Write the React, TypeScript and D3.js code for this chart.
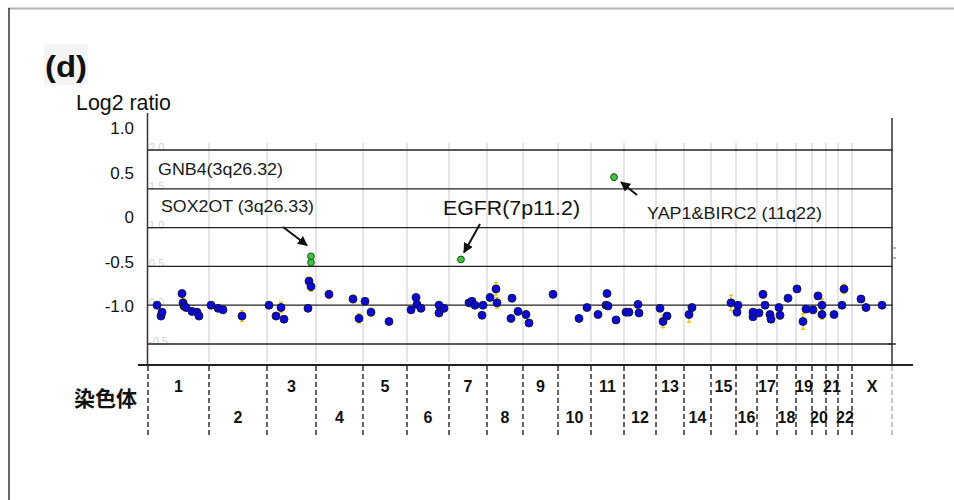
import React from "react";
import * as d3 from "d3";

// ---------- data ----------
const chromosomes = ["1","2","3","4","5","6","7","8","9","10","11","12","13","14","15","16","17","18","19","20","21","22","X"];
// relative chromosome widths as drawn in the genome-wide x axis
const chromWidths = [61,58,49,47,44,42,38,36,35,33,33,32,28,27,25,21,20,19,16,14,12,14,40];

// gridlines of the plot (log2 ratio scale)
const gridValues = [2.0, 1.5, 1.0, 0.5, 0.0, -0.5];
const faintGridLabels = ["2.0", "1.5", "1.0", "0.5", "0.0", "-0.5"];
// pasted axis labels on the left
const axisLabelValues = [1.0, 0.5, 0, -0.5, -1.0];
const axisLabels = ["1.0", "0.5", "0", "-0.5", "-1.0"];

// blue probes: [chromosome, position within chromosome, log2 ratio, error]
const bluePoints: [string, number, number, number][] = [
  ["1", 9, 0.0, 0.03], ["1", 13, -0.14, 0.03], ["1", 14, -0.09, 0.02], ["1", 34, 0.15, 0.02],
  ["1", 35, 0.03, 0.06], ["1", 36, -0.01, 0.03], ["1", 38, -0.03, 0.02], ["1", 44, -0.08, 0.02],
  ["1", 49, -0.09, 0.02], ["1", 51, -0.14, 0.03],
  ["2", 2, 0.0, 0.02], ["2", 9, -0.04, 0.04], ["2", 14, -0.06, 0.02], ["2", 33, -0.14, 0.07],
  ["3", 2, 0.0, 0.02], ["3", 9, -0.14, 0.03], ["3", 14, -0.03, 0.07], ["3", 17, -0.18, 0.02],
  ["3", 41, -0.04, 0.02], ["3", 42, 0.31, 0.05], ["3", 44, 0.24, 0.06],
  ["4", 13, 0.14, 0.05], ["4", 37, 0.08, 0.05], ["4", 43, -0.17, 0.06],
  ["5", 2, 0.05, 0.02], ["5", 8, -0.09, 0.05], ["5", 26, -0.21, 0.02],
  ["6", 4, -0.06, 0.02], ["6", 9, 0.1, 0.02], ["6", 10, 0.01, 0.02], ["6", 14, -0.04, 0.02],
  ["6", 32, 0.0, 0.03], ["6", 32, -0.1, 0.03], ["6", 37, -0.04, 0.04],
  ["7", 20, 0.03, 0.03], ["7", 23, 0.05, 0.03], ["7", 26, 0.0, 0.02], ["7", 33, -0.13, 0.02],
  ["7", 34, 0.0, 0.02],
  ["8", 3, 0.1, 0.03], ["8", 9, 0.21, 0.08], ["8", 10, 0.03, 0.07], ["8", 25, 0.09, 0.02],
  ["8", 24, -0.17, 0.02], ["8", 31, -0.08, 0.02],
  ["9", 3, -0.12, 0.05], ["9", 6, -0.23, 0.02], ["9", 30, 0.14, 0.02],
  ["10", 21, -0.17, 0.02], ["10", 29, -0.03, 0.02],
  ["11", 7, -0.12, 0.02], ["11", 16, 0.15, 0.02], ["11", 15, 0.0, 0.02], ["11", 17, -0.01, 0.02],
  ["11", 25, -0.19, 0.02],
  ["12", 2, -0.09, 0.04], ["12", 5, -0.09, 0.02], ["12", 14, 0.01, 0.04], ["12", 15, -0.1, 0.02],
  ["13", 4, -0.04, 0.04], ["13", 7, -0.21, 0.08], ["13", 11, -0.14, 0.02],
  ["14", 5, -0.12, 0.1], ["14", 8, -0.03, 0.04],
  ["15", 20, 0.03, 0.1], ["16", 1, -0.09, 0.04], ["16", 2, 0.0, 0.02],
  ["16", 17, -0.15, 0.02], ["16", 17, -0.09, 0.02],
  ["17", 2, -0.1, 0.02], ["17", 6, 0.14, 0.05], ["17", 8, 0.0, 0.02], ["17", 13, -0.12, 0.02],
  ["17", 14, -0.18, 0.02],
  ["18", 3, -0.13, 0.05], ["18", 2, -0.03, 0.03], ["18", 11, 0.09, 0.02],
  ["19", 1, 0.21, 0.02], ["19", 7, -0.21, 0.1], ["19", 10, -0.05, 0.02],
  ["20", 1, -0.06, 0.02], ["20", 6, 0.12, 0.03], ["20", 10, 0.0, 0.08], ["20", 10, -0.12, 0.06],
  ["21", 8, -0.12, 0.02],
  ["22", 4, 0.0, 0.02], ["22", 6, 0.21, 0.06],
  ["X", 9, 0.08, 0.02], ["X", 14, -0.03, 0.02], ["X", 30, 0.0, 0.02],
];

// amplified probes (green)
const greenPoints: [string, number, number, number][] = [
  ["3", 44, 0.63, 0.02], ["3", 44, 0.55, 0.02],
  ["7", 12, 0.59, 0.01],
  ["11", 23, 1.65, 0.04],
];

// ---------- layout ----------
const W = 954, H = 500;
const plotLeft = 148, plotRight = 892;
const yTop = 150, yBottom = 344;
const axisY = 365;

const FONT = "'Liberation Sans', Arial, sans-serif";

export default function App() {
  const chromStarts = d3.cumsum([0, ...chromWidths]);
  const total = chromStarts[chromStarts.length - 1];
  const x = d3.scaleLinear().domain([0, total]).range([plotLeft, plotRight]);
  const y = d3.scaleLinear().domain([-0.5, 2.0]).range([yBottom, yTop]);
  const labelY = d3.scaleLinear().domain([1.0, -1.0]).range([128, 306]);
  const startOf = (c: string) => chromStarts[chromosomes.indexOf(c)];
  const px = (c: string, p: number) => x(startOf(c) + p);

  const boundaries = Array.from(chromStarts);

  const errBar = (cx: number, v: number, e: number, key: string) => {
    const y1 = y(v + e), y2 = y(v - e);
    return (
      <g key={key} stroke="#f0be00" strokeWidth={1.3}>
        <line x1={cx} x2={cx} y1={y1} y2={y2} />
        <line x1={cx - 2} x2={cx + 2} y1={y1} y2={y1} />
        <line x1={cx - 2} x2={cx + 2} y1={y2} y2={y2} />
      </g>
    );
  };

  const sox = greenPoints[0];
  const egfr = greenPoints[2];
  const yap = greenPoints[3];
  const soxX = px(sox[0], sox[1]), soxY = y(sox[2]);
  const egX = px(egfr[0], egfr[1]), egY = y(egfr[2]);
  const yaX = px(yap[0], yap[1]), yaY = y(yap[2]);

  return (
    <svg width={W} height={H} style={{ position: "fixed", left: 0, top: 0, background: "#fff" }}>
      <defs>
        <marker id="arr" viewBox="0 0 10 10" refX="9" refY="5" markerWidth="5" markerHeight="5" orient="auto-start-reverse">
          <path d="M0,0 L10,5 L0,10 z" fill="#111" />
        </marker>
      </defs>
      <rect x={0} y={0} width={W} height={H} fill="#fff" />
      {/* frame */}
      <line x1={8} x2={W} y1={8.5} y2={8.5} stroke="#b4b4b4" strokeWidth={2} />
      <line x1={9} x2={9} y1={8} y2={H} stroke="#333" strokeWidth={1.5} />

      {/* title */}
      <rect x={44} y={44} width={44} height={41} fill="#f4f4f4" />
      <text x={45} y={77} fontFamily={FONT} fontWeight="bold" fontSize={30} textLength={42} lengthAdjust="spacingAndGlyphs" fill="#111">(d)</text>
      <text x={76} y={110} fontFamily={FONT} fontSize={22} textLength={95} lengthAdjust="spacingAndGlyphs" fill="#111">Log2 ratio</text>

      {/* pasted y labels */}
      {axisLabelValues.map((v, i) => (
        <text key={"al" + i} x={134} y={labelY(v) + 6} textAnchor="end" fontFamily={FONT} fontSize={17} fill="#111">{axisLabels[i]}</text>
      ))}

      {/* vertical faint gridlines */}
      {boundaries.slice(1, -1).map((b, i) => (
        <line key={"vg" + i} x1={x(b)} x2={x(b)} y1={143} y2={362} stroke="#dcdcdc" strokeWidth={1.5} />
      ))}

      {/* faint grid labels */}
      {gridValues.map((v, i) => (
        <text key={"fl" + i} x={149} y={y(v) + 1} fontFamily={FONT} fontSize={11} fill="#d2d2d2">{faintGridLabels[i]}</text>
      ))}

      {/* horizontal gridlines */}
      {gridValues.map((v, i) => (
        <line key={"hg" + i} x1={plotLeft} x2={plotRight + 1} y1={y(v)} y2={y(v)} stroke="#222" strokeWidth={1.3} />
      ))}

      {/* axes */}
      <line x1={147.5} x2={147.5} y1={113} y2={axisY} stroke="#333" strokeWidth={1.5} />
      <line x1={892} x2={892} y1={118} y2={axisY} stroke="#333" strokeWidth={1.5} />
      {[248, 258].map((t, i) => (
        <line key={"rt" + i} x1={892} x2={896} y1={t} y2={t} stroke="#666" strokeWidth={1} />
      ))}
      <line x1={888} x2={896} y1={y(-0.5)} y2={y(-0.5)} stroke="#333" strokeWidth={1.5} />
      <line x1={138} x2={913} y1={axisY} y2={axisY} stroke="#222" strokeWidth={2} />

      {/* chromosome dashed separators */}
      {boundaries.map((b, i) => (
        <line key={"db" + i} x1={x(b)} x2={x(b)} y1={axisY + 1} y2={437}
          stroke={i === boundaries.length - 1 ? "#aaa" : "#222"} strokeWidth={1.4} strokeDasharray="5,3" />
      ))}
      {chromosomes.map((c, i) => (
        <text key={"cl" + i} x={x(chromStarts[i] + chromWidths[i] / 2)} y={i % 2 === 0 ? 392 : 423}
          textAnchor="middle" fontFamily={FONT} fontWeight="bold" fontSize={16} fill="#111">{c}</text>
      ))}
      <text x={137} y={406} textAnchor="end" fontFamily="'Noto Sans CJK JP', sans-serif" fontWeight="bold" fontSize={21} fill="#111">染色体</text>

      {/* blue probes */}
      {bluePoints.map((d, i) => errBar(px(d[0], d[1]), d[2], d[3], "be" + i))}
      {bluePoints.map((d, i) => (
        <circle key={"bp" + i} cx={px(d[0], d[1])} cy={y(d[2])} r={4} fill="#0a0ad2" stroke="#14143c" strokeWidth={0.9} />
      ))}
      {/* green probes */}
      {greenPoints.map((d, i) => errBar(px(d[0], d[1]), d[2], d[3], "ge" + i))}
      {greenPoints.map((d, i) => (
        <circle key={"gp" + i} cx={px(d[0], d[1])} cy={y(d[2])} r={3.4} fill="#3cc83c" stroke="#1e4e1e" strokeWidth={1} />
      ))}

      {/* annotations */}
      <text x={158} y={175} fontFamily={FONT} fontSize={17} textLength={125} lengthAdjust="spacingAndGlyphs" fill="#1a1a1a">GNB4(3q26.32)</text>
      <text x={161} y={212} fontFamily={FONT} fontSize={17} textLength={153} lengthAdjust="spacingAndGlyphs" fill="#1a1a1a">SOX2OT (3q26.33)</text>
      <text x={443} y={215} fontFamily={FONT} fontSize={20} textLength={137} lengthAdjust="spacingAndGlyphs" fill="#111">EGFR(7p11.2)</text>
      <text x={647} y={219} fontFamily={FONT} fontSize={17} textLength={175} lengthAdjust="spacingAndGlyphs" fill="#1a1a1a">YAP1&amp;BIRC2 (11q22)</text>

      <line x1={283} y1={227} x2={soxX - 4} y2={soxY - 11} stroke="#111" strokeWidth={2} markerEnd="url(#arr)" />
      <line x1={480} y1={224} x2={egX + 3} y2={egY - 7} stroke="#111" strokeWidth={2} markerEnd="url(#arr)" />
      <line x1={637} y1={195} x2={yaX + 7} y2={yaY + 5} stroke="#111" strokeWidth={2} markerEnd="url(#arr)" />
    </svg>
  );
}
